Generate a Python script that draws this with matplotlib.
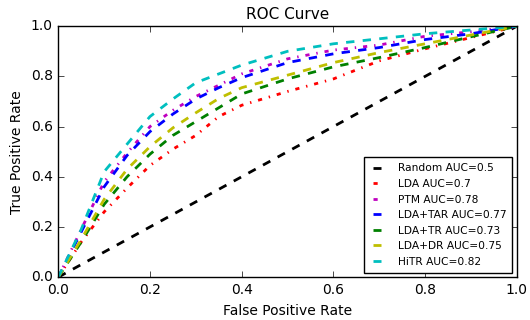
import matplotlib
matplotlib.use("Agg")
import matplotlib.pyplot as plt

# ROC curves
fpr = [0.0, 0.05, 0.1, 0.15, 0.2, 0.25, 0.3, 0.35, 0.4, 0.5, 0.6, 0.7, 0.8, 0.9, 1.0]

tpr_lda = [0.0, 0.14, 0.26, 0.355, 0.445, 0.51, 0.565, 0.64, 0.685, 0.74, 0.79, 0.862, 0.91, 0.955, 1.0]
tpr_ptm = [0.0, 0.19, 0.38, 0.495, 0.60, 0.665, 0.72, 0.765, 0.81, 0.87, 0.905, 0.925, 0.96, 0.978, 1.0]
tpr_lda_tar = [0.0, 0.18, 0.36, 0.485, 0.58, 0.65, 0.71, 0.755, 0.795, 0.855, 0.89, 0.915, 0.947, 0.97, 1.0]
tpr_lda_tr = [0.0, 0.14, 0.29, 0.40, 0.49, 0.565, 0.62, 0.675, 0.73, 0.79, 0.838, 0.875, 0.915, 0.958, 1.0]
tpr_lda_dr = [0.0, 0.15, 0.31, 0.43, 0.52, 0.595, 0.655, 0.712, 0.755, 0.805, 0.855, 0.895, 0.93, 0.965, 1.0]
tpr_hitr = [0.0, 0.19, 0.42, 0.53, 0.64, 0.71, 0.775, 0.81, 0.845, 0.90, 0.93, 0.95, 0.97, 0.985, 1.0]

labels = ['Random AUC=0.5', 'LDA AUC=0.7', 'PTM AUC=0.78', 'LDA+TAR AUC=0.77',
          'LDA+TR AUC=0.73', 'LDA+DR AUC=0.75', 'HiTR AUC=0.82']


if __name__ == '__main__':
    plt.style.use('classic')
    fig = plt.figure(figsize=(5.3, 3.2), dpi=100)
    ax = fig.add_axes([0.110, 0.134, 0.865, 0.784])

    ax.plot([0, 1], [0, 1], 'k--', linewidth=2, label=labels[0])
    ax.plot(fpr, tpr_lda, 'r-.', linewidth=2, label=labels[1])
    ax.plot(fpr, tpr_ptm, 'm-.', linewidth=2, label=labels[2])
    ax.plot(fpr, tpr_lda_tar, 'b--', linewidth=2, label=labels[3])
    ax.plot(fpr, tpr_lda_tr, 'g--', linewidth=2, label=labels[4])
    ax.plot(fpr, tpr_lda_dr, 'y--', linewidth=2, label=labels[5])
    ax.plot(fpr, tpr_hitr, 'c--', linewidth=2, label=labels[6])

    ax.set_xlim(0, 1)
    ax.set_ylim(0, 1)
    ax.tick_params(labelsize=10)
    ax.set_title('ROC Curve', fontsize=11)
    ax.set_xlabel('False Positive Rate', fontsize=10)
    ax.set_ylabel('True Positive Rate', fontsize=10)
    ax.legend(loc='lower right', fontsize=7.7, handlelength=1.3,
              handletextpad=1.3, labelspacing=0.52, borderpad=0.55,
              borderaxespad=0.42)

    plt.savefig('out.png', dpi=100)
